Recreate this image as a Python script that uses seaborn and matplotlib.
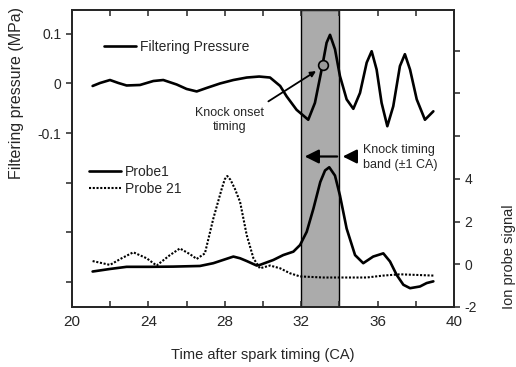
import matplotlib
matplotlib.use("Agg")
import matplotlib.pyplot as plt
from matplotlib.lines import Line2D
import seaborn as sns

# Filtering pressure (MPa), left axis
press_x = [21.08, 21.47, 21.99, 22.43, 22.86, 23.56, 24.26, 24.78, 25.48, 26.0,
           26.53, 27.05, 27.75, 28.45, 29.15, 29.8, 30.37, 30.9, 31.24, 31.76,
           32.37, 32.72, 33.07, 33.33, 33.51, 33.77, 34.03, 34.38, 34.73, 35.08,
           35.43, 35.69, 35.95, 36.21, 36.51, 36.82, 37.17, 37.43, 37.70, 38.05,
           38.48, 38.92]
press_y = [-0.005, 0.001, 0.007, 0.001, -0.004, -0.003, 0.005, 0.007, -0.002, -0.011,
           -0.016, -0.009, 0.0, 0.007, 0.012, 0.014, 0.012, -0.005, -0.026, -0.053,
           -0.073, -0.039, 0.028, 0.082, 0.098, 0.069, 0.015, -0.032, -0.051, -0.019,
           0.042, 0.065, 0.028, -0.039, -0.086, -0.046, 0.035, 0.059, 0.028, -0.032,
           -0.073, -0.056]

# Ion probe signals, right axis
p1_x = [21.08, 21.99, 22.86, 24.08, 25.3, 26.7, 27.4, 28.45, 28.8, 29.15,
        29.67, 29.84, 30.54, 31.06, 31.59, 31.94, 32.29, 32.64, 33.0, 33.25,
        33.47, 33.77, 34.03, 34.38, 34.82, 35.25, 35.77, 36.3, 36.65, 37.0,
        37.35, 37.7, 38.22, 38.57, 38.92]
p1_y = [-0.34, -0.22, -0.12, -0.12, -0.11, -0.08, 0.05, 0.36, 0.28, 0.15,
        -0.06, -0.03, 0.2, 0.43, 0.59, 0.9, 1.52, 2.6, 3.85, 4.39,
        4.54, 4.15, 3.22, 1.67, 0.43, 0.05, 0.36, 0.51, 0.13, -0.5,
        -0.96, -1.12, -1.04, -0.88, -0.8]

p21_x = [21.08, 21.99, 22.6, 23.21, 23.91, 24.43, 25.13, 25.65, 26.18, 26.53,
         26.96, 27.4, 27.84, 28.0, 28.13, 28.3, 28.53, 28.8, 29.15, 29.5,
         29.84, 30.37, 30.9, 31.41, 31.94, 33.16, 34.03, 35.43, 36.3, 37.17,
         38.05, 38.92]
p21_y = [0.15, -0.03, 0.28, 0.56, 0.28, -0.06, 0.43, 0.74, 0.47, 0.25,
         0.51, 2.14, 3.53, 3.98, 4.13, 3.95, 3.53, 2.92, 1.36, 0.28,
         -0.19, -0.06, -0.19, -0.42, -0.57, -0.62, -0.62, -0.62, -0.53, -0.47,
         -0.5, -0.53]

band = (32, 34)
onset = (33.15, 0.038)

x_major = [20, 24, 28, 32, 36, 40]
x_minor = [22, 26, 30, 34, 38]
left_ticks = [-0.4, -0.3, -0.2, -0.1, 0, 0.1]
left_labels = ['', '', '', '-0.1', '0', '0.1']
right_ticks = [-2, 0, 2, 4, 6, 8, 10]
right_labels = ['-2', '0', '2', '4', '', '', '']

sns.set_style("ticks")
plt.rcParams['font.family'] = ['Liberation Sans', 'DejaVu Sans']
plt.rcParams['axes.linewidth'] = 1.3

fig = plt.figure(figsize=(5.16, 3.67), dpi=100)
ax = fig.add_axes([0.1395, 0.1635, 0.7403, 0.8093])
ax2 = ax.twinx()

ax.axvspan(band[0], band[1], facecolor='#ababab', edgecolor='black', lw=1.0, zorder=0)

sns.lineplot(x=press_x, y=press_y, ax=ax, color='black', lw=1.9, estimator=None)
sns.lineplot(x=p1_x, y=p1_y, ax=ax2, color='black', lw=1.9, estimator=None)
sns.lineplot(x=p21_x, y=p21_y, ax=ax2, color='black', lw=1.5,
             linestyle=(0, (1, 0.8)), estimator=None)

ax.set_xlim(20, 40)
ax.set_ylim(-0.45, 0.148)
ax2.set_ylim(-2, 11.9)

ax.set_xticks(x_major)
ax.set_xticks(x_minor, minor=True)
ax.set_yticks(left_ticks)
ax.set_yticklabels(left_labels)
ax2.set_yticks(right_ticks)
ax2.set_yticklabels(right_labels)

ax.tick_params(axis='x', which='both', direction='in', top=True, length=4, width=1.1,
               labelsize=11, pad=6)
ax.tick_params(axis='y', direction='out', length=4, width=1.1, labelsize=10)
ax2.tick_params(axis='y', direction='out', length=4, width=1.1, labelsize=10)

ax.set_xlabel('Time after spark timing (CA)', fontsize=10.5)
ax.xaxis.set_label_coords(0.5, -0.138)
ax.set_ylabel('Filtering pressure (MPa)', fontsize=11.5)
ax.yaxis.set_label_coords(-0.126, 0.72)
ax2.set_ylabel('Ion probe signal', fontsize=10.5)
ax2.yaxis.set_label_coords(1.126, 0.17)

# knock onset marker and note
ax.plot([onset[0]], [onset[1]], 'o', ms=7, mfc='#9a9a9a', mec='black', mew=1.2, zorder=5)
ax.text(28.27, -0.073, 'Knock onset\ntiming', ha='center', va='center',
        fontsize=9, linespacing=1.25)
ax.annotate('', xy=(32.9, 0.028), xytext=(30.16, -0.039),
            arrowprops=dict(arrowstyle='-|>', color='black', lw=1.3, mutation_scale=8))

# knock timing band arrows
head = '-|>,head_length=0.6,head_width=0.3'
ax.annotate('', xy=(32.04, -0.147), xytext=(34.03, -0.147),
            arrowprops=dict(arrowstyle=head, color='black', lw=1.6, mutation_scale=14))
ax.annotate('', xy=(34.03, -0.147), xytext=(34.82, -0.147),
            arrowprops=dict(arrowstyle=head, color='black', lw=1.6, mutation_scale=14))
ax.text(35.24, -0.149, 'Knock timing\nband (±1 CA)', ha='left', va='center',
        fontsize=9, linespacing=1.25)

# legends
leg1 = ax.legend(handles=[Line2D([], [], color='black', lw=1.9)],
                 labels=['Filtering Pressure'], loc='center left',
                 bbox_to_anchor=(0.083, 0.876), frameon=False, fontsize=10,
                 handlelength=2.3, handletextpad=0.3, borderpad=0, borderaxespad=0)
leg2 = ax2.legend(handles=[Line2D([], [], color='black', lw=1.9),
                           Line2D([], [], color='black', lw=1.5, linestyle=(0, (1, 0.8)))],
                  labels=['Probe1', 'Probe 21'], loc='center left',
                  bbox_to_anchor=(0.045, 0.426), frameon=False, fontsize=10,
                  handlelength=2.3, handletextpad=0.3, borderpad=0, borderaxespad=0,
                  labelspacing=0.2)

fig.savefig('out.png', dpi=100)
